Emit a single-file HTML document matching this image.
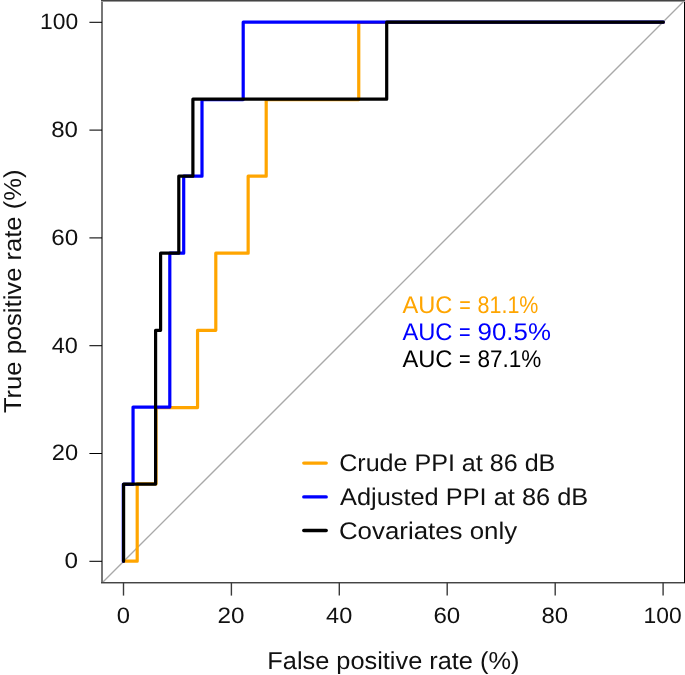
<!DOCTYPE html>
<html>
<head>
<meta charset="utf-8">
<style>
html,body{margin:0;padding:0;background:#fff;}
body{width:685px;height:675px;overflow:hidden;}
svg{display:block;will-change:transform;}
text{font-family:"Liberation Sans",sans-serif;text-rendering:geometricPrecision;}
</style>
</head>
<body>
<svg width="685" height="675" viewBox="0 0 685 675">
<rect x="0" y="0" width="685" height="675" fill="#fff"/>
<!-- identity diagonal -->
<line x1="101.5" y1="583.5" x2="685" y2="0" stroke="#a9a9a9" stroke-width="1.35"/>
<!-- curves -->
<g fill="none" stroke-width="3.2" stroke-linejoin="round" stroke-linecap="round">
<polyline stroke="#ffa500" points="123.6,561.2 137.2,561.2 137.2,483.9 156.0,483.9 156.0,407.6 197.55,407.6 197.55,330.3 215.8,330.3 215.8,253.2 248.15,253.2 248.15,176.2 266.2,176.2 266.2,99.6 358.75,99.6 358.75,22.5 663.3,22.5"/>
<polyline stroke="#0000ff" points="123.3,561.2 123.3,484.3 133.05,484.3 133.05,407.1 169.8,407.1 169.8,253.2 183.7,253.2 183.7,176.2 202.0,176.2 202.0,99.6 243.2,99.6 243.2,22.2 663.3,22.2"/>
<polyline stroke="#000000" points="123.6,561.2 123.6,484.1 155.6,484.1 155.6,330.3 160.6,330.3 160.6,253.2 178.8,253.2 178.8,176.2 192.9,176.2 192.9,99.2 386.7,99.2 386.7,22.05 663.3,22.05"/>
</g>
<!-- box -->
<rect x="101" y="0" width="2" height="584" fill="#777"/>
<rect x="101" y="0" width="584" height="1" fill="#444"/>
<rect x="101" y="1" width="584" height="1" fill="#999"/>
<rect x="101" y="582" width="584" height="1" fill="#444"/>
<rect x="101" y="583" width="584" height="1" fill="#aaa"/>
<rect x="684" y="2" width="1" height="581" fill="#000"/>
<!-- y ticks -->
<g stroke="#000" stroke-width="1.05">
<line x1="89.4" y1="561.3" x2="102" y2="561.3"/>
<line x1="89.4" y1="453.5" x2="102" y2="453.5"/>
<line x1="89.4" y1="345.7" x2="102" y2="345.7"/>
<line x1="89.4" y1="237.9" x2="102" y2="237.9"/>
<line x1="89.4" y1="130.1" x2="102" y2="130.1"/>
<line x1="89.4" y1="22.3" x2="102" y2="22.3"/>
</g>
<!-- x ticks -->
<g stroke="#3a3a3a" stroke-width="1.4">
<line x1="123.5" y1="582.5" x2="123.5" y2="595.6"/>
<line x1="231.4" y1="582.5" x2="231.4" y2="595.6"/>
<line x1="339.3" y1="582.5" x2="339.3" y2="595.6"/>
<line x1="447.2" y1="582.5" x2="447.2" y2="595.6"/>
<line x1="555.2" y1="582.5" x2="555.2" y2="595.6"/>
<line x1="663.1" y1="582.5" x2="663.1" y2="595.6"/>
</g>
<!-- legend lines -->
<g stroke-width="3.4" stroke-linecap="round">
<line x1="303.8" y1="463.1" x2="326.2" y2="463.1" stroke="#ffa500"/>
<line x1="303.8" y1="496.9" x2="326.2" y2="496.9" stroke="#0000ff"/>
<line x1="303.8" y1="530.5" x2="326.2" y2="530.5" stroke="#000"/>
</g>

<text x="39.98" y="29.1" font-size="22.3" fill="#111" textLength="38.13" lengthAdjust="spacingAndGlyphs">100</text>
<text x="51.16" y="136.9" font-size="22.3" fill="#111" textLength="26.74" lengthAdjust="spacingAndGlyphs">80</text>
<text x="51.21" y="244.7" font-size="22.3" fill="#111" textLength="26.95" lengthAdjust="spacingAndGlyphs">60</text>
<text x="51.78" y="352.5" font-size="22.3" fill="#111" textLength="26.12" lengthAdjust="spacingAndGlyphs">40</text>
<text x="51.86" y="460.3" font-size="22.3" fill="#111" textLength="26.28" lengthAdjust="spacingAndGlyphs">20</text>
<text x="64.47" y="568.1" font-size="22.3" fill="#111" textLength="13.51" lengthAdjust="spacingAndGlyphs">0</text>
<text x="116.83" y="622.8" font-size="22.3" fill="#111" textLength="13.25" lengthAdjust="spacingAndGlyphs">0</text>
<text x="217.58" y="622.8" font-size="22.3" fill="#111" textLength="26.94" lengthAdjust="spacingAndGlyphs">20</text>
<text x="326.07" y="622.8" font-size="22.3" fill="#111" textLength="26.15" lengthAdjust="spacingAndGlyphs">40</text>
<text x="433.42" y="622.8" font-size="22.3" fill="#111" textLength="26.82" lengthAdjust="spacingAndGlyphs">60</text>
<text x="541.52" y="622.8" font-size="22.3" fill="#111" textLength="26.66" lengthAdjust="spacingAndGlyphs">80</text>
<text x="643.51" y="622.8" font-size="22.3" fill="#111" textLength="38.09" lengthAdjust="spacingAndGlyphs">100</text>
<text x="267.34" y="668.6" font-size="24.5" fill="#111" textLength="252.06" lengthAdjust="spacingAndGlyphs">False positive rate (%)</text>
<text transform="translate(20.7,413.12) rotate(-90)" font-size="24.5" fill="#111" textLength="243.54" lengthAdjust="spacingAndGlyphs">True positive rate (%)</text>
<text x="402.53" y="312.8" font-size="24" fill="#ffa500" textLength="49.9" lengthAdjust="spacingAndGlyphs">AUC</text>
<text x="459.24" y="312.8" font-size="24" fill="#ffa500" textLength="11.5" lengthAdjust="spacingAndGlyphs">=</text>
<text x="477.61" y="312.8" font-size="24" fill="#ffa500" textLength="60.82" lengthAdjust="spacingAndGlyphs">81.1%</text>
<text x="402.41" y="340.2" font-size="24" fill="#0000ff" textLength="50.06" lengthAdjust="spacingAndGlyphs">AUC</text>
<text x="459.09" y="340.2" font-size="24" fill="#0000ff" textLength="11.6" lengthAdjust="spacingAndGlyphs">=</text>
<text x="477.59" y="340.2" font-size="24" fill="#0000ff" textLength="73.32" lengthAdjust="spacingAndGlyphs">90.5%</text>
<text x="402.41" y="367.0" font-size="24" fill="#000" textLength="50.06" lengthAdjust="spacingAndGlyphs">AUC</text>
<text x="459.09" y="367.0" font-size="24" fill="#000" textLength="11.6" lengthAdjust="spacingAndGlyphs">=</text>
<text x="477.42" y="367.0" font-size="24" fill="#000" textLength="63.86" lengthAdjust="spacingAndGlyphs">87.1%</text>
<text x="339.2" y="471.1" font-size="24" fill="#111" textLength="216.13" lengthAdjust="spacingAndGlyphs">Crude PPI at 86 dB</text>
<text x="340.0" y="504.9" font-size="24" fill="#111" textLength="248.18" lengthAdjust="spacingAndGlyphs">Adjusted PPI at 86 dB</text>
<text x="338.94" y="538.7" font-size="24" fill="#111" textLength="178.17" lengthAdjust="spacingAndGlyphs">Covariates only</text>
</svg>
</body>
</html>
